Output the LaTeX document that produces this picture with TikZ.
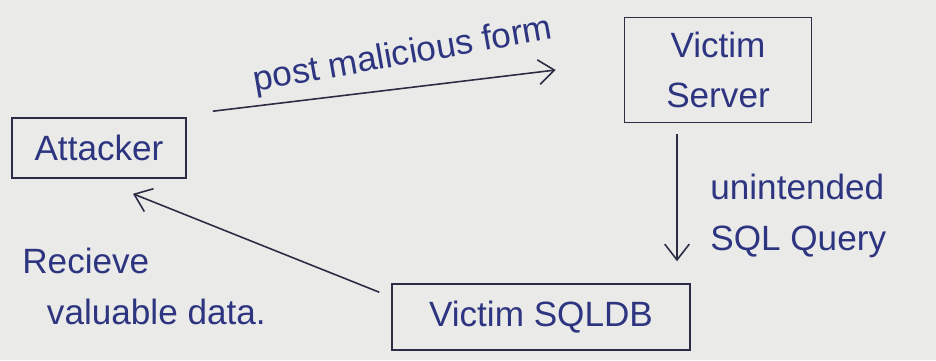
\documentclass[tikz,border=0pt]{standalone}
\usepackage{fontspec}
\setmainfont{Liberation Sans}
\usetikzlibrary{arrows.meta}
\definecolor{ink}{HTML}{2B2D45}
\definecolor{pen}{HTML}{2E3580}
\definecolor{paper}{HTML}{EAEAE8}
\tikzset{>={Straight Barb[length=9pt,width=14pt]}}
\tikzset{
  box/.style={draw=ink, line width=0.9pt, text=pen, align=center,
    inner sep=0pt, font=\fontsize{20}{28}\selectfont},
  note/.style={text=pen, font=\fontsize{20}{29}\selectfont, inner sep=0pt},
  link/.style={->, draw=ink, line width=0.9pt}
}

\begin{document}
\begin{tikzpicture}[x=0.02cm, y=-0.02cm]

  % Paper
  \fill[paper] (0,0) rectangle (936,360);
  \useasboundingbox (0,0) rectangle (936,360);

  % Nodes
  \node[box, minimum width=174*0.02cm, minimum height=60*0.02cm] (attacker) at (99,148) {Attacker};
  \node[box, minimum width=187*0.02cm, minimum height=105*0.02cm] (server) at (718,70) {Victim\\Server};
  \node[box, minimum width=298*0.02cm, minimum height=66*0.02cm] (sqldb) at (541,317) {Victim SQLDB};

  % Edges
  \draw[link] ([shift={(26,-6)}]attacker.north east) -- ([shift={(-68,0)}]server.west);
  \draw[link] ([shift={(-41,11)}]server.south) -- ([shift={(136,-22)}]sqldb.north);
  \draw[link] ([shift={(-12,9)}]sqldb.north west) -- ([shift={(34,15)}]attacker.south);

  % Labels
  \node[note, rotate=10] (postlbl) at (403,56) {post malicious form};
  \node[note, anchor=west, align=left] (querylbl) at (710,216) {unintended\\SQL Query};
  \node[note, anchor=west, align=left] (datalbl) at (22,286) {Recieve\\\hspace{14pt}valuable data.};

\end{tikzpicture}
\end{document}
